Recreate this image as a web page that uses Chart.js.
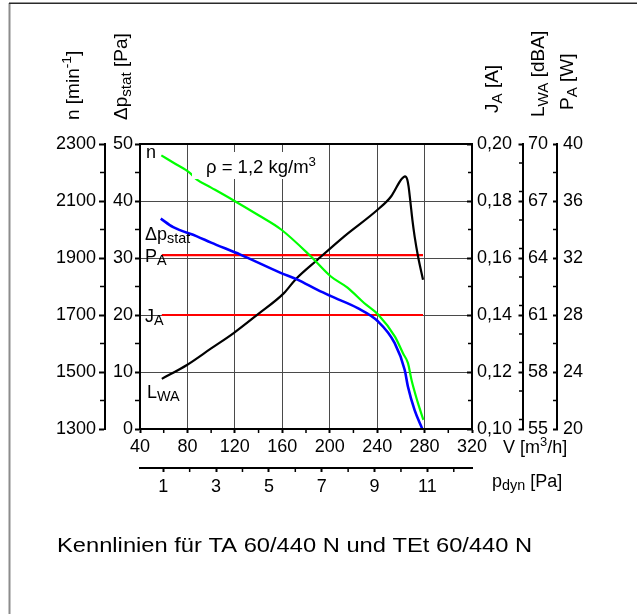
<!DOCTYPE html>
<html>
<head>
<meta charset="utf-8">
<title>Kennlinien TA 60/440 N</title>
<script src="https://cdn.jsdelivr.net/npm/chart.js@4.4.1/dist/chart.umd.min.js"></script>
<style>
  html, body { margin: 0; padding: 0; background: #fff; }
  canvas { display: block; }
</style>
</head>
<body>
<canvas id="kennlinie" width="637" height="614"></canvas>
<script>
// Volumenstrom V [m3/h] je Kurve
const vDrehzahl = [58, 70, 82, 88, 100, 119, 140, 159, 184, 201, 215, 229, 241, 255, 262, 266, 269, 274, 279];
const drehzahl = [2260, 2230, 2199, 2175, 2147, 2102, 2050, 2000, 1906, 1835, 1796, 1742, 1701, 1624, 1564, 1531, 1472, 1397, 1332];

const vDruck = [57.5, 68, 88, 100, 124.7, 158.6, 172.8, 189.7, 201, 223.6, 240.6, 254.7, 263.2, 266, 271.6, 278.1];
const druckStat = [36.9, 35.4, 33.8, 32.7, 30.6, 27.4, 26.2, 24.4, 23.3, 21.2, 18.9, 15.1, 10.4, 7.4, 3.3, 0];

const vSchall = [58.4, 79.6, 100, 119, 138.8, 161.4, 171, 189.7, 212.3, 240.6, 251.9, 260.3, 263.5, 265.4, 266.5, 268, 269.7, 271.6, 274.5, 278.7];
const schallLwa = [57.64, 58.37, 59.24, 60.05, 61.01, 62.15, 62.86, 63.91, 65.14, 66.55, 67.25, 68.13, 68.3, 68.13, 67.77, 66.98, 66.02, 65.14, 64.08, 62.86];

const vLeistung = [58.4, 278.7];
const leistungPa = [32.2, 32.2];

const vStrom = [58.4, 278.7];
const stromJa = [0.14, 0.14];

// beschriftete Teilstriche der Achsen
const ticksV = [40, 80, 120, 160, 200, 240, 280, 320];
const ticksDyn = [1, 3, 5, 7, 9, 11];
const bereichDyn = [0.12, 12.69];
const ticksN = [1300, 1500, 1700, 1900, 2100, 2300];
const ticksDp = [0, 10, 20, 30, 40, 50];
const ticksJ = [0.10, 0.12, 0.14, 0.16, 0.18, 0.20];
const ticksL = [55, 58, 61, 64, 67, 70];
const ticksP = [20, 24, 28, 32, 36, 40];

const FONT = "'Liberation Sans', Arial, Helvetica, sans-serif";
Chart.defaults.font.family = FONT;
Chart.defaults.color = '#000';

function punkte(xs, ys) {
    return xs.map((x, i) => ({ x: x, y: ys[i] }));
}

// Achse bauen (Teilstriche fest aus den Listen oben)
function achse(pos, weight, werte, size, tickLen, pad, onChart, fmt) {
    return {
        type: 'linear',
        position: pos,
        weight: weight,
        min: werte[0],
        max: werte[werte.length - 1],
        afterBuildTicks: s => { s.ticks = werte.map(v => ({ value: v })); },
        afterFit: s => {
            if (pos === 'bottom') s.height = size; else s.width = size;
        },
        border: { display: true, color: '#000', width: 2 },
        grid: {
            drawOnChartArea: onChart,
            color: '#4a4a4a',
            lineWidth: 1,
            drawTicks: true,
            tickLength: tickLen,
            tickColor: '#000',
            tickWidth: 2
        },
        ticks: {
            autoSkip: false,
            maxRotation: 0,
            padding: pad,
            font: { size: 18 },
            color: '#000',
            callback: fmt || (v => String(v))
        }
    };
}

const skalen = {
    x: achse('bottom', 0, ticksV, 39, 4, 3, true),
    xDyn: achse('bottom', 1, ticksDyn, 32, 4, 4, false),
    yDp: achse('left', 0, ticksDp, 35, 5, 2, true),
    yN: achse('left', 1, ticksN, 50, 6, 3, false),
    yJ: achse('right', 0, ticksJ, 51, -5, 10, false, v => v.toFixed(2).replace('.', ',')),
    yL: achse('right', 1, ticksL, 34, -4.5, 9.5, false),
    yP: achse('right', 2, ticksP, 43, -4, 10, false)
};
skalen.xDyn.min = bereichDyn[0];
skalen.xDyn.max = bereichDyn[1];

// Zwischenteilung (kurze Striche)
const zwischen = { x: 20, xDyn: 1, yDp: 5, yN: 100, yJ: 0.01, yL: 1.5, yP: 2 };

const minorTicks = {
    id: 'minorTicks',
    afterDraw(chart) {
        const ctx = chart.ctx;
        ctx.save();
        ctx.strokeStyle = '#000';
        ctx.lineWidth = 1.5;
        Object.keys(zwischen).forEach(id => {
            const s = chart.scales[id];
            const step = zwischen[id];
            const major = s.ticks.map(t => t.value);
            const start = Math.ceil((s.min - 1e-9) / step) * step;
            for (let v = start; v <= s.max + 1e-9; v += step) {
                if (major.some(m => Math.abs(m - v) < step / 10)) continue;
                const p = s.getPixelForValue(v);
                ctx.beginPath();
                if (s.position === 'bottom') {
                    ctx.moveTo(p, s.top); ctx.lineTo(p, s.top + 4);
                } else if (s.position === 'left') {
                    ctx.moveTo(s.right - 1, p); ctx.lineTo(s.right - 5, p);
                } else {
                    ctx.moveTo(s.left, p); ctx.lineTo(s.left - 4, p);
                }
                ctx.stroke();
            }
        });
        ctx.restore();
    }
};

// Text mit Hoch-/Tiefstellung: [text, 0 normal | 1 hoch | -1 tief]
function richText(ctx, x, y, teile, size, gedreht) {
    ctx.save();
    ctx.translate(x, y);
    if (gedreht) ctx.rotate(-Math.PI / 2);
    ctx.textAlign = 'left';
    ctx.textBaseline = 'alphabetic';
    ctx.fillStyle = '#000';
    let cx = 0;
    teile.forEach(([txt, art]) => {
        const s = art === 0 ? size : (art === -1 ? size * 0.8 : size * 0.72);
        const dy = art === -1 ? size * 0.19 : (art === 1 ? -size * 0.4 : 0);
        ctx.font = s + 'px ' + FONT;
        ctx.fillText(txt, cx, dy);
        cx += ctx.measureText(txt).width;
    });
    ctx.restore();
}

const beschriftung = {
    id: 'beschriftung',
    beforeDraw(chart) {
        const ctx = chart.ctx;
        ctx.save();
        ctx.fillStyle = '#fff';
        ctx.fillRect(0, 0, chart.width, chart.height);
        ctx.fillStyle = '#8c8c8c';
        ctx.fillRect(8.5, 3, 2, 611);
        ctx.fillStyle = '#2a2a2a';
        ctx.fillRect(9, 2.5, 628, 1.5);
        ctx.restore();
    },
    afterDraw(chart) {
        const ctx = chart.ctx;
        const a = chart.chartArea;

        // Dichteangabe mit weissem Hintergrund
        ctx.save();
        ctx.fillStyle = '#fff';
        ctx.fillRect(192, 152, 130, 27);
        ctx.restore();
        richText(ctx, 206, 173, [['\u03c1 = 1,2 kg/m', 0], ['3', 1]], 18.5);

        // Kurvenbezeichnungen
        richText(ctx, 146, 158, [['n', 0]], 18);
        richText(ctx, 145, 240, [['\u0394p', 0], ['stat', -1]], 18);
        richText(ctx, 145, 262, [['P', 0], ['A', -1]], 18);
        richText(ctx, 145, 322, [['J', 0], ['A', -1]], 18);
        richText(ctx, 147, 398, [['L', 0], ['WA', -1]], 18);

        // Achsentitel
        richText(ctx, 79, 120, [['n [min', 0], ['-1', 1], [']', 0]], 19, true);
        richText(ctx, 127, 120, [['\u0394p', 0], ['stat', -1], [' [Pa]', 0]], 19, true);
        richText(ctx, 498, 113, [['J', 0], ['A', -1], [' [A]', 0]], 19, true);
        richText(ctx, 544, 117, [['L', 0], ['WA', -1], [' [dBA]', 0]], 19, true);
        richText(ctx, 573, 110, [['P', 0], ['A', -1], [' [W]', 0]], 19, true);
        richText(ctx, 503, 453, [['V [m', 0], ['3', 1], ['/h]', 0]], 18);
        richText(ctx, 492, 487, [['p', 0], ['dyn', -1], [' [Pa]', 0]], 18);

        // Rahmen des Diagramms
        ctx.save();
        ctx.strokeStyle = '#000';
        ctx.lineWidth = 2;
        ctx.strokeRect(a.left, a.top, a.right - a.left, a.bottom - a.top);
        ctx.restore();

        // Bildunterschrift
        ctx.save();
        ctx.translate(57, 552);
        ctx.scale(1.185, 1);
        ctx.font = '20px ' + FONT;
        ctx.fillStyle = '#000';
        ctx.textBaseline = 'alphabetic';
        ctx.fillText('Kennlinien f\u00fcr TA 60/440 N und TEt 60/440 N', 0, 0);
        ctx.restore();
    }
};

function kurve(label, xs, ys, farbe, breite, yId) {
    return {
        label: label,
        data: punkte(xs, ys),
        borderColor: farbe,
        backgroundColor: farbe,
        borderWidth: breite,
        pointRadius: 0,
        fill: false,
        cubicInterpolationMode: 'monotone',
        xAxisID: 'x',
        yAxisID: yId
    };
}

new Chart(document.getElementById('kennlinie'), {
    type: 'line',
    data: {
        datasets: [
            kurve('\u0394p stat', vDruck, druckStat, '#0000ff', 2.6, 'yDp'),
            kurve('n', vDrehzahl, drehzahl, '#00ff00', 2.2, 'yN'),
            kurve('LWA', vSchall, schallLwa, '#000000', 2.2, 'yL'),
            kurve('PA', vLeistung, leistungPa, '#ff0000', 2.2, 'yP'),
            kurve('JA', vStrom, stromJa, '#ff0000', 2.2, 'yJ')
        ]
    },
    options: {
        responsive: false,
        animation: false,
        events: [],
        layout: { padding: { left: 55, right: 37, top: 144, bottom: 114 } },
        plugins: { legend: { display: false }, tooltip: { enabled: false } },
        scales: skalen
    },
    plugins: [beschriftung, minorTicks]
});
</script>
</body>
</html>
